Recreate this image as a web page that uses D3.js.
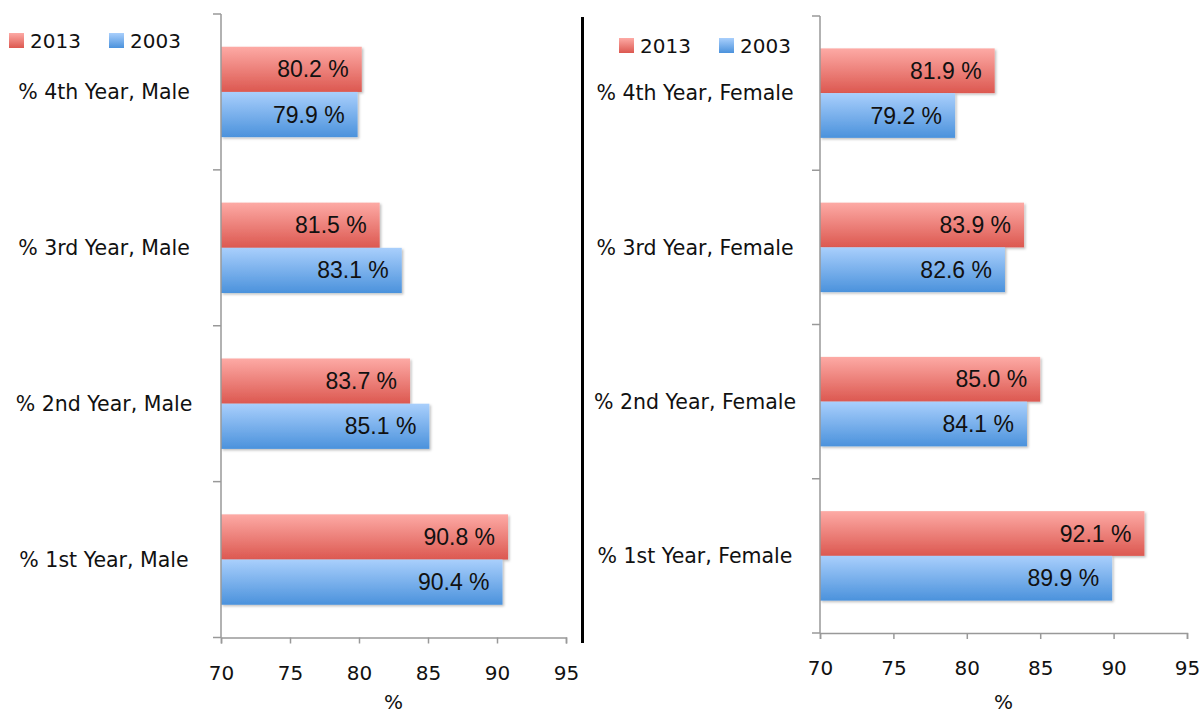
<!doctype html>
<html>
<head>
<meta charset="utf-8">
<style>
  body { margin: 0; background: #fff; }
  svg { display: block; }
  .cat { font-family: "DejaVu Sans", sans-serif; font-size: 20.5px; fill: #111; }
  .tick-label { font-family: "DejaVu Sans", sans-serif; font-size: 20px; fill: #111; }
  .val { font-family: "Liberation Sans", Arial, sans-serif; font-size: 23px; fill: #111; }
</style>
</head>
<body>
<svg id="chart" width="1201" height="715"></svg>
<script src="https://d3js.org/d3.v7.min.js"></script>
<script>
  const maleCats = ['% 4th Year, Male', '% 3rd Year, Male', '% 2nd Year, Male', '% 1st Year, Male'];
  const femaleCats = ['% 4th Year, Female', '% 3rd Year, Female', '% 2nd Year, Female', '% 1st Year, Female'];
  const male2013 = [80.2, 81.5, 83.7, 90.8];
  const male2003 = [79.9, 83.1, 85.1, 90.4];
  const female2013 = [81.9, 83.9, 85.0, 92.1];
  const female2003 = [79.2, 82.6, 84.1, 89.9];
  const seriesNames = ['2013', '2003'];
  const xTicks = [70, 75, 80, 85, 90, 95];
  const axisTitle = '%';

  const svg = d3.select('#chart');
  const defs = svg.append('defs');

  const grad = (id, top, bottom) => {
    const g = defs.append('linearGradient').attr('id', id)
      .attr('x1', 0).attr('y1', 0).attr('x2', 0).attr('y2', 1);
    g.append('stop').attr('offset', '0%').attr('stop-color', top);
    g.append('stop').attr('offset', '100%').attr('stop-color', bottom);
  };
  grad('red', '#fdaaa5', '#dc5850');
  grad('blue', '#a9cffc', '#4b92dc');

  const shadow = defs.append('filter').attr('id', 'shadow')
    .attr('x', '-5%').attr('y', '-10%').attr('width', '115%').attr('height', '130%');
  shadow.append('feDropShadow').attr('dx', 1.5).attr('dy', 1.5)
    .attr('stdDeviation', 1.2).attr('flood-color', '#000').attr('flood-opacity', 0.25);

  const fills = ['url(#red)', 'url(#blue)'];

  function panel(cfg) {
    const g = svg.append('g');
    const x = d3.scaleLinear().domain([70, 95]).range([cfg.x0, cfg.x1]);
    const y = d3.scaleBand().domain(cfg.cats).range([cfg.y0, cfg.y1]);
    const barH = y.bandwidth() * 0.29;

    // bars
    cfg.cats.forEach((c, i) => {
      const mid = y(c) + y.bandwidth() / 2;
      [cfg.a[i], cfg.b[i]].forEach((v, k) => {
        const top = mid - barH + k * barH;
        g.append('rect')
          .attr('x', x(70)).attr('y', top)
          .attr('width', x(v) - x(70)).attr('height', barH)
          .attr('fill', fills[k]).attr('filter', 'url(#shadow)');
        g.append('text').attr('class', 'val')
          .attr('x', x(v) - 13).attr('y', top + barH / 2)
          .attr('dy', '0.35em').attr('text-anchor', 'end')
          .text(v.toFixed(1) + ' %');
      });
      g.append('text').attr('class', 'cat')
        .attr('x', cfg.labelX).attr('y', mid).attr('dy', '0.35em')
        .attr('text-anchor', 'middle').text(c);
    });

    // y axis with ticks at band edges
    g.append('line').attr('x1', cfg.x0).attr('x2', cfg.x0)
      .attr('y1', cfg.y0).attr('y2', cfg.y1).attr('stroke', '#999').attr('stroke-width', 1.5);
    const edges = cfg.cats.map(c => y(c)).concat([cfg.y1]);
    g.selectAll('.ytick').data(edges).join('line')
      .attr('x1', cfg.x0 - 8).attr('x2', cfg.x0)
      .attr('y1', d => d).attr('y2', d => d)
      .attr('stroke', '#999').attr('stroke-width', 1.5);

    // x axis
    const ax = g.append('g').attr('transform', `translate(0,${cfg.y1})`)
      .call(d3.axisBottom(x).tickValues(xTicks).tickSize(6).tickPadding(22));
    ax.select('.domain').attr('stroke', '#999').attr('stroke-width', 1.5);
    ax.selectAll('.tick line').attr('stroke', '#999').attr('stroke-width', 1.5);
    ax.selectAll('.tick text').attr('class', 'tick-label').attr('font-size', null).attr('font-family', null);

    g.append('text').attr('class', 'tick-label')
      .attr('x', (cfg.x0 + cfg.x1) / 2).attr('y', 709)
      .attr('text-anchor', 'middle').text(axisTitle);

    // legend
    seriesNames.forEach((s, k) => {
      const lx = cfg.legX + k * 100;
      g.append('rect').attr('x', lx).attr('y', cfg.legY)
        .attr('width', 15).attr('height', 15).attr('fill', fills[k]);
      g.append('text').attr('class', 'tick-label')
        .attr('x', lx + 21).attr('y', cfg.legY + 7.5).attr('dy', '0.35em')
        .text(s);
    });
  }

  panel({ cats: maleCats, a: male2013, b: male2003,
    x0: 221, x1: 566, y0: 14, y1: 637.5, labelX: 104, legX: 9, legY: 33 });
  panel({ cats: femaleCats, a: female2013, b: female2003,
    x0: 820, x1: 1187, y0: 16, y1: 633, labelX: 695, legX: 619, legY: 38 });

  // divider
  svg.append('line').attr('x1', 582.5).attr('x2', 582.5)
    .attr('y1', 17).attr('y2', 643).attr('stroke', '#000').attr('stroke-width', 3);
</script>
</body>
</html>
